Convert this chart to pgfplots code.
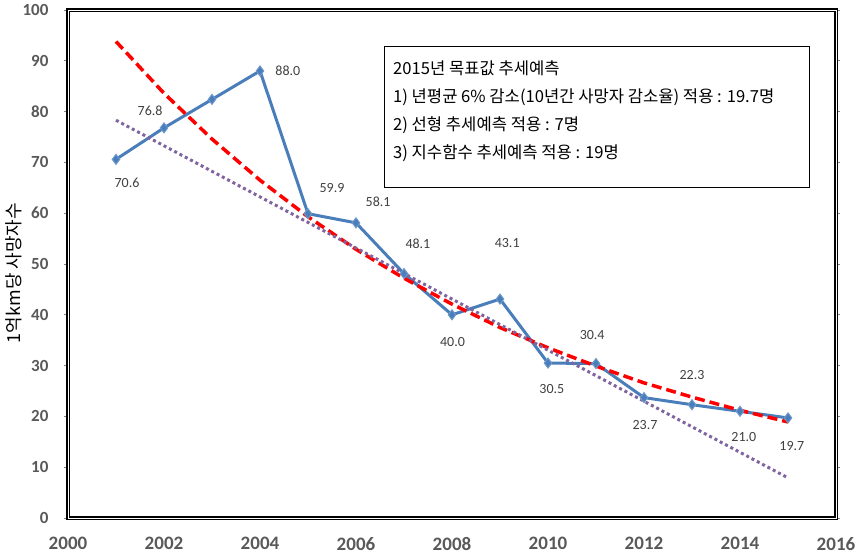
\documentclass[border=0pt]{standalone}
\usepackage{fontspec}
\setmainfont{Carlito}
\newfontfamily\kr{Noto Sans CJK KR}
\usepackage{pgfplots}
\pgfplotsset{compat=1.18}
\definecolor{sblue}{HTML}{4A7EBB}
\definecolor{sred}{HTML}{FF0000}
\definecolor{spurple}{HTML}{7F64A0}
\definecolor{tickgray}{HTML}{595959}
\definecolor{lblgray}{HTML}{404040}
\begin{document}
\begin{tikzpicture}
\begin{axis}[
  scale only axis, width=768pt, height=508pt,
  at={(0,0)}, anchor=south west,
  xmin=2000, xmax=2016, ymin=0, ymax=100,
  xtick={2000,2002,...,2016}, ytick={0,10,...,100},
  /pgf/number format/1000 sep={},
  /pgf/number format/assume math mode=true,
  ticklabel style={font=\fontsize{17}{20}\selectfont\bfseries, color=tickgray},
  xticklabel style={font=\fontsize{19}{22}\selectfont\bfseries, yshift=-12pt},
  yticklabel style={xshift=-12pt},
  tick align=outside, major tick length=4pt,
  ytick style={draw=gray, line width=0.6pt},
  xtick style={draw=none},
  axis line style={line width=1.5pt, double=white, double distance=0.9pt},
  clip=false,
]
\addplot[color=sblue, line width=3pt, mark=diamond*, mark size=5pt,
  mark options={fill=sblue, draw=sblue!80!white, line width=1pt}]
  coordinates {(2001,70.6)(2002,76.8)(2003,82.4)(2004,88.0)(2005,59.9)(2006,58.1)(2007,48.1)(2008,40.0)(2009,43.1)(2010,30.5)(2011,30.4)(2012,23.7)(2013,22.3)(2014,21.0)(2015,19.7)};
\addplot[color=sred, line width=3.5pt, dash pattern=on 10pt off 5pt]
  coordinates {(2001,93.8)(2002,83.6)(2003,74.6)(2004,66.5)(2005,59.3)(2006,52.9)(2007,47.2)(2008,42.1)(2009,37.5)(2010,33.5)(2011,29.9)(2012,26.6)(2013,23.8)(2014,21.2)(2015,18.9)};
\addplot[color=spurple, line width=3pt, dash pattern=on 3pt off 3pt]
  coordinates {(2001,78.3)(2015,7.9)};
% data labels
\begin{scope}[every node/.style={font=\fontsize{14}{16}\selectfont, color=lblgray}]
\node at (axis cs:2001.23,65.9) {70.6};
\node at (axis cs:2001.71,80.1) {76.8};
\node at (axis cs:2004.58,88.0) {88.0};
\node at (axis cs:2005.50,65.0) {59.9};
\node at (axis cs:2006.46,62.2) {58.1};
\node at (axis cs:2007.29,53.9) {48.1};
\node at (axis cs:2008.01,34.6) {40.0};
\node at (axis cs:2009.15,54.1) {43.1};
\node at (axis cs:2010.08,25.4) {30.5};
\node at (axis cs:2010.92,36.0) {30.4};
\node at (axis cs:2012.02,18.3) {23.7};
\node at (axis cs:2013.00,28.1) {22.3};
\node at (axis cs:2014.08,15.9) {21.0};
\node at (axis cs:2015.08,14.2) {19.7};
\end{scope}
% text box
\draw[black, line width=0.9pt, fill=white] (axis cs:2006.6,65.0) rectangle (axis cs:2015.44,92.9);
\begin{scope}[every node/.style={anchor=west, inner sep=0pt, font=\kr\fontsize{16.6}{19}\selectfont, color=black}]
\node at (axis cs:2006.77,88.6) {2015년 목표값 추세예측};
\node at (axis cs:2006.77,82.9) {1) 년평균 6\% 감소(10년간 사망자 감소율) 적용 : 19.7명};
\node at (axis cs:2006.77,77.4) {2) 선형 추세예측 적용 : 7명};
\node at (axis cs:2006.77,71.9) {3) 지수함수 추세예측 적용 : 19명};
\end{scope}
% y label
\node[rotate=90, font=\kr\fontsize{18}{21}\selectfont, color=black] at ([xshift=-54pt]axis cs:2000,48.2) {1억km당 사망자수};
\end{axis}
\pgfresetboundingbox
\path (-68pt,-41pt) rectangle (793pt,518pt);
\end{tikzpicture}
\end{document}
